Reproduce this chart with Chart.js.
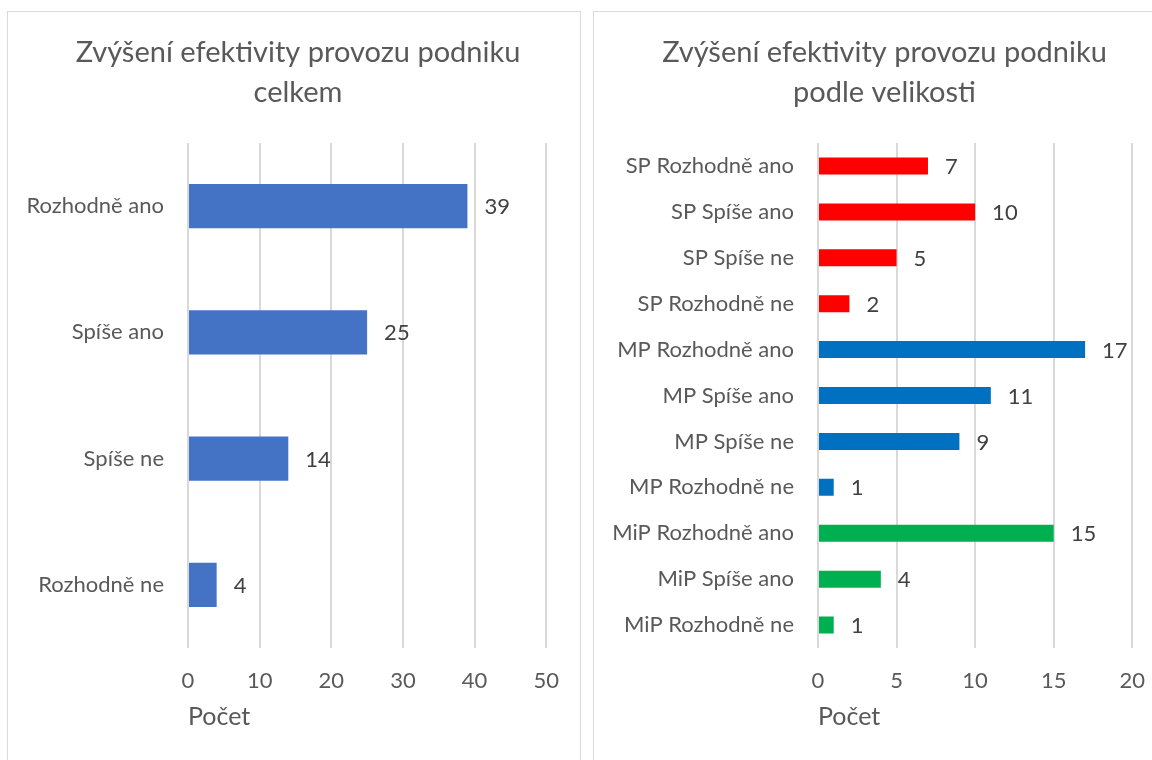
<!DOCTYPE html>
<html lang="cs">
<head>
    <meta charset="UTF-8">
    <script src="https://cdn.jsdelivr.net/npm/chart.js"></script>
    <title>Zvýšení efektivity provozu podniku</title>
    <style>
        body { margin: 0; width: 1152px; height: 760px; overflow: hidden; background: #fff; position: relative; }
        .panel { position: absolute; top: 11px; width: 572px; height: 760px; border: 1px solid #d9d9d9; background: #fff; }
        #p1 { left: 7px; }
        #p2 { left: 593px; }
        canvas { display: block; }
    </style>
</head>
<body>
    <div class="panel" id="p1"><canvas id="chart1" width="571" height="748"></canvas></div>
    <div class="panel" id="p2"><canvas id="chart2" width="571" height="748"></canvas></div>
<script>
var FONT = 'Lato';
var TEXT = '#595959';
var GRID = '#d9d9d9';

// levy graf - celkem
var labels1 = ['Rozhodně ano', 'Spíše ano', 'Spíše ne', 'Rozhodně ne'];
var values1 = [39, 25, 14, 4];
var ticks1 = [0, 10, 20, 30, 40, 50];

// pravy graf - podle velikosti
var labels2 = ['SP Rozhodně ano', 'SP Spíše ano', 'SP Spíše ne', 'SP Rozhodně ne',
    'MP Rozhodně ano', 'MP Spíše ano', 'MP Spíše ne', 'MP Rozhodně ne',
    'MiP Rozhodně ano', 'MiP Spíše ano', 'MiP Rozhodně ne'];
var values2 = [7, 10, 5, 2, 17, 11, 9, 1, 15, 4, 1];
var groups2 = ['SP', 'SP', 'SP', 'SP', 'MP', 'MP', 'MP', 'MP', 'MiP', 'MiP', 'MiP'];
var ticks2 = [0, 5, 10, 15, 20];
var groupColors = { SP: '#ff0000', MP: '#0070c0', MiP: '#00b050' };

// popisky hodnot za koncem sloupce
var valueLabels = {
    id: 'valueLabels',
    afterDatasetsDraw: function (chart) {
        var ctx = chart.ctx;
        var meta = chart.getDatasetMeta(0);
        var data = chart.data.datasets[0].data;
        ctx.save();
        ctx.font = '22px ' + FONT;
        ctx.fillStyle = '#404040';
        ctx.textAlign = 'left';
        ctx.textBaseline = 'middle';
        meta.data.forEach(function (bar, i) {
            ctx.fillText(data[i], bar.x + 17, bar.y + 1);
        });
        ctx.restore();
    }
};

function makeChart(id, labels, values, colors, tickValues, opts) {
    var ctx = document.getElementById(id).getContext('2d');
    return new Chart(ctx, {
        type: 'bar',
        data: {
            labels: labels,
            datasets: [{
                data: values,
                backgroundColor: colors,
                borderWidth: 0,
                categoryPercentage: opts.catPct,
                barPercentage: 1
            }]
        },
        options: {
            indexAxis: 'y',
            responsive: false,
            animation: false,
            devicePixelRatio: 1,
            layout: { padding: { top: 0, left: opts.padLeft, right: 0, bottom: 0 } },
            plugins: {
                legend: { display: false },
                tooltip: { enabled: false },
                title: {
                    display: true,
                    text: opts.title,
                    color: TEXT,
                    font: { family: FONT, size: 29, weight: 'normal', lineHeight: 1.38 },
                    padding: { top: 21, bottom: 30 }
                }
            },
            scales: {
                x: {
                    min: 0,
                    max: tickValues[tickValues.length - 1],
                    afterBuildTicks: function (scale) {
                        scale.ticks = tickValues.map(function (v) { return { value: v }; });
                    },
                    afterFit: function (scale) { scale.height = 112; },
                    grid: { color: GRID, lineWidth: 2, drawTicks: false },
                    border: { display: false },
                    ticks: { color: TEXT, font: { family: FONT, size: 22 }, padding: 20 },
                    title: {
                        display: true,
                        text: 'Počet',
                        align: 'start',
                        color: TEXT,
                        font: { family: FONT, size: 25 },
                        padding: { top: 0, bottom: 28 }
                    }
                },
                y: {
                    afterFit: function (scale) { scale.width = opts.yWidth; },
                    grid: { display: false, drawTicks: false },
                    border: { display: false },
                    ticks: { color: TEXT, font: { family: FONT, size: 22 }, padding: 24 }
                },
                // prazdne misto vpravo od grafu
                yRight: {
                    position: 'right',
                    afterFit: function (scale) { scale.width = opts.rightWidth; },
                    grid: { display: false, drawTicks: false },
                    border: { display: false },
                    ticks: { display: false }
                }
            }
        },
        plugins: [valueLabels]
    });
}

makeChart('chart1', labels1, values1, '#4472c4', ticks1, {
    title: ['Zvýšení efektivity provozu podniku', 'celkem'],
    catPct: 0.35, padLeft: 9, yWidth: 171, rightWidth: 32
});

makeChart('chart2', labels2, values2, groups2.map(function (g) { return groupColors[g]; }), ticks2, {
    title: ['Zvýšení efektivity provozu podniku', 'podle velikosti'],
    catPct: 0.37, padLeft: 10, yWidth: 214, rightWidth: 32
});
</script>
</body>
</html>
